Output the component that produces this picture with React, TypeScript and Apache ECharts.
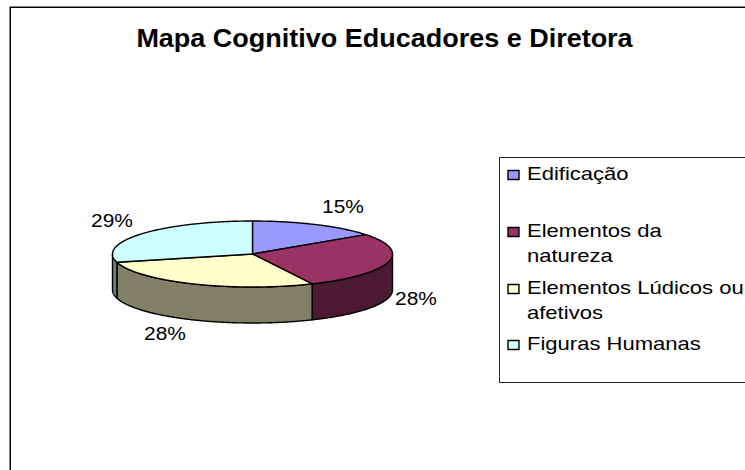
import React, { useEffect, useRef } from "react";
import * as echarts from "echarts";

const titleText = "Mapa Cognitivo Educadores e Diretora";
const categories = ["Edificação", "Elementos da natureza", "Elementos Lúdicos ou afetivos", "Figuras Humanas"];
const legendLines = [["Edificação"], ["Elementos da", "natureza"], ["Elementos Lúdicos ou", "afetivos"], ["Figuras Humanas"]];
const values = [15, 28, 28, 29];
const topColors = ["#9999FF", "#993366", "#FFFFCC", "#CCFFFF"];
const wallColors = ["#4C4C80", "#4C1933", "#808066", "#668080"];
const labelPos = [[343, 206], [416, 298], [165, 333], [112, 220]];
const legendY = [173, 230, 287, 343];

const CX = 252.5, CY = 254, RX = 140, RY = 33, DEPTH = 36;
const FONT = "Liberation Sans";
const total = values.reduce((a, b) => a + b, 0);
const pt = (t: number, dy = 0) => [CX + RX * Math.sin(t), CY - RY * Math.cos(t) + dy];
const arc = (a: number, b: number, dy = 0) => {
  const n = Math.max(2, Math.ceil(Math.abs(b - a) / 0.01));
  const out: number[][] = [];
  for (let k = 0; k <= n; k++) out.push(pt(a + ((b - a) * k) / n, dy));
  return out;
};

function renderSlice(params: any, api: any) {
  const i = params.dataIndex;
  let before = 0;
  for (let k = 0; k < i; k++) before += values[k];
  const a0 = (before / total) * 2 * Math.PI;
  const a1 = ((before + api.value(0)) / total) * 2 * Math.PI;
  const children: any[] = [];
  const lo = Math.max(a0, Math.PI / 2), hi = Math.min(a1, (3 * Math.PI) / 2);
  const strokeStyle = { stroke: "#000", lineWidth: 1.4, lineJoin: "round" };
  if (hi > lo) {
    children.push({
      type: "polygon",
      shape: { points: [...arc(lo, hi), ...arc(hi, lo, DEPTH)] },
      style: { fill: wallColors[i], ...strokeStyle },
    });
  }
  children.push({
    type: "polygon",
    z2: 5,
    shape: { points: [[CX, CY], ...arc(a0, a1)] },
    style: { fill: topColors[i], ...strokeStyle },
  });
  return { type: "group", children };
}

export default function App() {
  const ref = useRef<HTMLDivElement>(null);
  useEffect(() => {
    const chart = echarts.init(ref.current!, undefined, { renderer: "svg" });
    const graphics: any[] = [
      { type: "rect", z: 0, shape: { x: 10.25, y: 7.25, width: 800, height: 500 }, style: { fill: "#fff", stroke: "#000", lineWidth: 1.5 } },
      { type: "rect", z: 1, shape: { x: 499.5, y: 157.5, width: 300, height: 225 }, style: { fill: "#fff", stroke: "#222", lineWidth: 1 } },
      {
        type: "text", z: 3, x: 384.5, y: 38.5, scaleX: 1.08,
        style: { text: titleText, font: `bold 25px "${FONT}"`, fill: "#000", align: "center", verticalAlign: "middle" },
      },
    ];
    categories.forEach((_, i) => {
      graphics.push({
        type: "rect", z: 2,
        shape: { x: 508, y: legendY[i] - 2.5, width: 11, height: 9 },
        style: { fill: topColors[i], stroke: "#000", lineWidth: 1.4 },
      });
      legendLines[i].forEach((line, j) => {
        graphics.push({
          type: "text", z: 2, x: 527, y: legendY[i] + j * 25, scaleX: 1.16,
          style: { text: line, font: `19px "${FONT}"`, fill: "#000", verticalAlign: "middle" },
        });
      });
    });
    values.forEach((v, i) => {
      graphics.push({
        type: "text", z: 3, x: labelPos[i][0], y: labelPos[i][1], scaleX: 1.1,
        style: { text: `${Math.round((v / total) * 100)}%`, font: `19px "${FONT}"`, fill: "#000", align: "center", verticalAlign: "middle" },
      });
    });
    chart.setOption({
      animation: false,
      backgroundColor: "#fff",
      graphic: graphics,
      series: [{
        type: "custom",
        coordinateSystem: "none",
        silent: true,
        z: 2,
        data: values.map((v, i) => ({ name: categories[i], value: [v] })),
        renderItem: renderSlice,
      }],
    });
    return () => chart.dispose();
  }, []);
  return <div ref={ref} style={{ position: "absolute", left: 0, top: 0, width: 745, height: 470 }} />;
}
